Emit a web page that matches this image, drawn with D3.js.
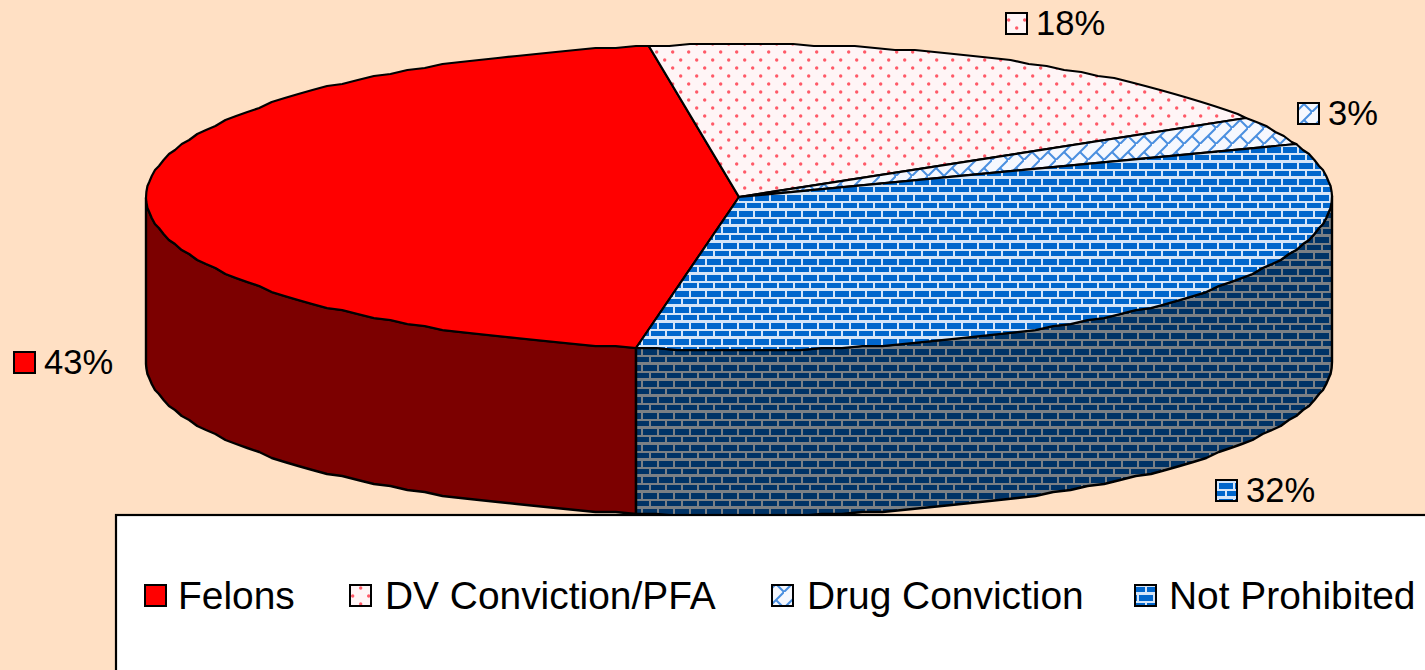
<!DOCTYPE html>
<html><head><meta charset="utf-8">
<script src="https://cdnjs.cloudflare.com/ajax/libs/d3/7.8.5/d3.min.js"></script>
<style>html,body{margin:0;padding:0;background:#ffe0c4;overflow:hidden}svg{display:block}text{font-family:"Liberation Sans",Arial,sans-serif;fill:#000}</style>
</head><body><svg id="c" width="1425" height="670"></svg>
<script>
const categories = ["Felons", "DV Conviction/PFA", "Drug Conviction", "Not Prohibited"];
const values = [43, 18, 3, 32];
const patternFills = ["#ff0000", "url(#dots)", "url(#diag)", "url(#brick)"];
const wallFills = ["#7c0000", "#7a7a7a", "#1d3a66", "url(#brickDark)"];
const labelSpots = [[13, 351], [1005, 12], [1297, 102], [1215, 479]];
const legendSwatchX = [144, 349, 771, 1134];
const legendTextX = [178, 385, 807, 1169];

const svg = d3.select("#c");
const defs = svg.append("defs");
function brick(id, bg, fg, dy) {
  const p = defs.append("pattern").attr("id", id).attr("patternUnits", "userSpaceOnUse")
    .attr("width", 16).attr("height", 16).attr("patternTransform", `translate(0,${dy})`);
  p.append("rect").attr("width", 16).attr("height", 16).attr("fill", bg);
  [[3, 3], [-13, 3], [11, 11], [-5, 11]].forEach(([x, y]) =>
    p.append("rect").attr("x", x).attr("y", y).attr("width", 14).attr("height", 6).attr("fill", fg));
}
brick("brick", "#d5e5f8", "#0066cc", 0);
brick("brickDark", "#7b8085", "#003366", 10);
const dots = defs.append("pattern").attr("id", "dots").attr("patternUnits", "userSpaceOnUse").attr("width", 16).attr("height", 16);
dots.append("rect").attr("width", 16).attr("height", 16).attr("fill", "#fff5f6");
[[0.7, 4], [16.7, 4], [8.7, 12]].forEach(([x, y]) => dots.append("circle").attr("cx", x).attr("cy", y).attr("r", 1.7).attr("fill", "#ff5a68"));
const diag = defs.append("pattern").attr("id", "diag").attr("patternUnits", "userSpaceOnUse").attr("width", 16).attr("height", 16);
diag.append("rect").attr("width", 16).attr("height", 16).attr("fill", "#f6f8fe");
[[-2, 18, 18, -2], [8, 8, 18, 18]].forEach(([a, b, c, d]) => diag.append("line").attr("x1", a).attr("y1", b).attr("x2", c).attr("y2", d).attr("stroke", "#4a8fe0").attr("stroke-width", 2));

const sx = d3.scaleLinear().domain([-1, 1]).range([146, 1332]);
const sy = d3.scaleLinear().domain([-1, 1]).range([44, 350]);
const depth = 166;
const snap = v => Math.round(v / 2) * 2;
const rim = (a, dz) => [sx(Math.sin(a)), snap(sy(-Math.cos(a))) + dz];
const step = Math.PI / 90;
const arcPts = (a0, a1, dz) => d3.range(a0, a1, step).concat([a1]).map(a => rim(a, dz));
const line = d3.line();
const deg = d => d * Math.PI / 180;
const start = deg(190);
const arcs = d3.pie().sort(null).value(d => d).startAngle(start).endAngle(start + 2 * Math.PI)(values);

// walls (front half only: 90deg to 270deg clockwise from the top)
const walls = svg.append("g");
arcs.forEach((d, i) => {
  [0, 2 * Math.PI].forEach(shift => {
    const a0 = Math.max(d.startAngle - shift, deg(90)), a1 = Math.min(d.endAngle - shift, deg(270));
    if (a1 <= a0) return;
    const pts = arcPts(a0, a1, 0).concat(arcPts(a0, a1, depth).reverse());
    walls.append("path").attr("d", line(pts) + "Z").attr("fill", wallFills[i])
      .attr("stroke", "#000").attr("stroke-width", 2.4).attr("stroke-linejoin", "round");
  });
});
// top face
const face = svg.append("g");
arcs.forEach((d, i) => {
  const pts = [[sx(0), sy(0)]].concat(arcPts(d.startAngle, d.endAngle, 0));
  face.append("path").attr("d", line(pts) + "Z").attr("fill", patternFills[i])
    .attr("stroke", "#000").attr("stroke-width", 2.2).attr("stroke-linejoin", "round");
});

// data labels
const swatch = (g, x, y, i) => g.append("rect").attr("x", x).attr("y", y).attr("width", 21).attr("height", 21)
  .attr("fill", patternFills[i]).attr("stroke", "#000").attr("stroke-width", 2);
const labels = svg.append("g");
values.forEach((v, i) => {
  const [x, y] = labelSpots[i];
  swatch(labels, x + 1, y + 1, i);
  labels.append("text").attr("x", x + 31).attr("y", y + 23).attr("font-size", 34.6).text(v + "%");
});

// legend
const legend = svg.append("g");
legend.append("rect").attr("x", 116).attr("y", 515).attr("width", 1400).attr("height", 300)
  .attr("fill", "#fff").attr("stroke", "#000").attr("stroke-width", 2.2);
categories.forEach((c, i) => {
  swatch(legend, legendSwatchX[i] + 1, 585, i);
  legend.append("text").attr("x", legendTextX[i]).attr("y", 609).attr("font-size", 38.9).text(c);
});
</script></body></html>
